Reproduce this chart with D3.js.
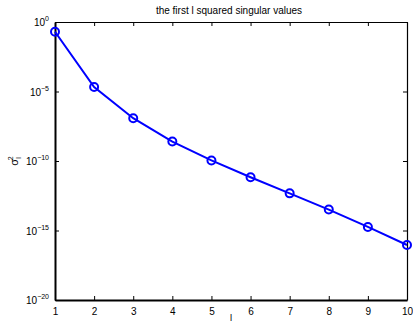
<!DOCTYPE html>
<html>
<head>
<meta charset="utf-8">
<script src="https://cdn.jsdelivr.net/npm/d3@7"></script>
<style>
  body { margin: 0; background: #fff; }
  svg { display: block; font-family: "Liberation Sans", Arial, sans-serif; }
</style>
</head>
<body>
<div id="container"></div>
<script>
// data
const ranks = [1, 2, 3, 4, 5, 6, 7, 8, 9, 10];
const sigma2 = [0.2, 2.1e-5, 1.2e-7, 2.5e-9, 1.1e-10, 6.8e-12, 4.7e-13, 3.2e-14, 1.8e-15, 9.1e-17];
const yTicks = [1e0, 1e-5, 1e-10, 1e-15, 1e-20];
const xTicks = [1, 2, 3, 4, 5, 6, 7, 8, 9, 10];

const w = 413, h = 322;
const m = { left: 55, right: 6, top: 22, bottom: 22 };

const svg = d3.select('#container').append('svg')
  .attr('width', w).attr('height', h);

const x = d3.scaleLinear().domain([1, 10]).range([m.left, w - m.right]);
const y = d3.scaleLog().domain([1e-20, 1]).range([h - m.bottom, m.top]);

const tickLen = 4;

// bottom axis
const xAxis = svg.append('g')
  .attr('transform', `translate(0,${h - m.bottom})`)
  .call(d3.axisBottom(x).tickValues(xTicks).tickFormat(d3.format('d'))
    .tickSizeInner(-tickLen).tickSizeOuter(0).tickPadding(8));
// top axis (ticks only)
const xTop = svg.append('g')
  .attr('transform', `translate(0,${m.top})`)
  .call(d3.axisTop(x).tickValues(xTicks).tickFormat('')
    .tickSizeInner(-tickLen).tickSizeOuter(0));
// left axis
const yAxis = svg.append('g')
  .attr('transform', `translate(${m.left},0)`)
  .call(d3.axisLeft(y).tickValues(yTicks).tickFormat('')
    .tickSizeInner(-tickLen).tickSizeOuter(0));
// right axis (ticks only)
const yRight = svg.append('g')
  .attr('transform', `translate(${w - m.right},0)`)
  .call(d3.axisRight(y).tickValues(yTicks).tickFormat('')
    .tickSizeInner(-tickLen).tickSizeOuter(0));

[xAxis, xTop, yAxis, yRight].forEach(g => {
  g.select('.domain').attr('stroke', '#000').attr('stroke-width', 1.2);
  g.selectAll('.tick line').attr('stroke', '#000').attr('stroke-width', 1);
});
xAxis.select('.domain').attr('stroke-width', 2);
yAxis.select('.domain').attr('stroke-width', 2);
xAxis.selectAll('.tick text').attr('font-size', 10).attr('fill', '#000')
  .attr('font-family', '"Liberation Sans", Arial, sans-serif');

// y tick labels as 10^n
yTicks.forEach(v => {
  const e = Math.round(Math.log10(v));
  const t = svg.append('text')
    .attr('x', m.left - 6)
    .attr('y', y(v) + 4)
    .attr('text-anchor', 'end')
    .attr('font-size', 10)
    .attr('fill', '#000');
  t.append('tspan').text('10');
  t.append('tspan').attr('dy', -5).attr('font-size', 7)
    .text(e === 0 ? '0' : '\u2212' + Math.abs(e));
});

// line and markers
const line = d3.line()
  .x((d, i) => x(ranks[i]))
  .y(d => y(d));

svg.append('path')
  .datum(sigma2)
  .attr('d', line)
  .attr('fill', 'none')
  .attr('stroke', '#0000ff')
  .attr('stroke-width', 2);

svg.selectAll('.point').data(sigma2)
  .enter()
  .append('circle')
  .attr('class', 'point')
  .attr('cx', (d, i) => x(ranks[i]))
  .attr('cy', d => y(d))
  .attr('r', 4)
  .attr('fill', 'none')
  .attr('stroke', '#0000ff')
  .attr('stroke-width', 2);

// title and labels
svg.append('text')
  .attr('x', (m.left + w - m.right) / 2 - 2)
  .attr('y', 14)
  .attr('text-anchor', 'middle')
  .attr('font-size', 10)
  .text('the first l squared singular values');

svg.append('text')
  .attr('x', (m.left + w - m.right) / 2)
  .attr('y', 321)
  .attr('text-anchor', 'middle')
  .attr('font-size', 9.5)
  .text('l');

const yl = svg.append('text')
  .attr('transform', 'translate(18,161) rotate(-90)')
  .attr('text-anchor', 'middle')
  .attr('font-size', 11);
yl.append('tspan').text('\u03c3');
yl.append('tspan').attr('font-size', 7).attr('dy', 3).text('l');
yl.append('tspan').attr('font-size', 7).attr('dx', -3).attr('dy', -8).text('2');
</script>
</body>
</html>
